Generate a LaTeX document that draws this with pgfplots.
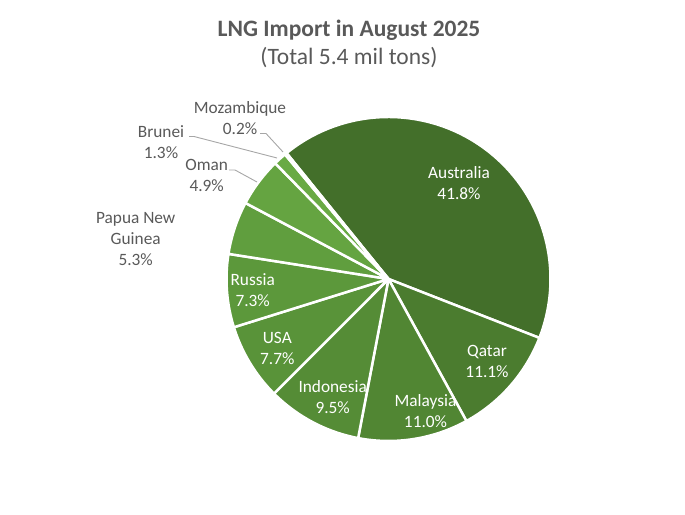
\documentclass[border=0pt]{standalone}
\usepackage{pgfplots}
\pgfplotsset{compat=1.18}
\usepackage{fontspec}
\setmainfont{Carlito}
\definecolor{cAus}{HTML}{436F2A}
\definecolor{cQat}{HTML}{4B7C2F}
\definecolor{cMal}{HTML}{518633}
\definecolor{cIdn}{HTML}{558C36}
\definecolor{cUsa}{HTML}{599339}
\definecolor{cRus}{HTML}{5C983B}
\definecolor{cPng}{HTML}{609E3E}
\definecolor{cOma}{HTML}{65A441}
\definecolor{cBru}{HTML}{69AA44}
\definecolor{cMoz}{HTML}{6EAD46}
\definecolor{txt}{HTML}{595959}
\definecolor{lead}{HTML}{A6A6A6}
\begin{document}
\begin{tikzpicture}
\begin{axis}[
  width=685bp, height=515bp, scale only axis,
  xmin=0, xmax=685, ymin=0, ymax=515,
  hide axis, clip=false]
% values (percent), clockwise from start angle 129 deg
\def\startang{129}
\def\total{100.1}
\xdef\cur{\startang}
\foreach \v/\c in {41.8/cAus, 11.1/cQat, 11.0/cMal, 9.5/cIdn, 7.7/cUsa, 7.3/cRus, 5.3/cPng, 4.9/cOma, 1.3/cBru, 0.2/cMoz}{
  \pgfmathsetmacro{\nxt}{\cur-\v*360/\total}
  \edef\doslice{\noexpand\fill[\c, draw=white, line width=2.5bp, line join=round] (axis cs:388.5,236) -- ++(\cur:162bp) arc[start angle=\cur, end angle=\nxt, radius=162bp] -- cycle;}
  \doslice
  \xdef\cur{\nxt}
}
% leader lines
\draw[lead, line width=0.9bp] (axis cs:260,381.5) -- (axis cs:266,381.5) -- (axis cs:283,363);
\draw[lead, line width=0.9bp] (axis cs:189,378.5) -- (axis cs:194,378.5) -- (axis cs:277,357);
\draw[lead, line width=0.9bp] (axis cs:229,345) -- (axis cs:235,345) -- (axis cs:257,333);
% inside labels
\tikzset{lab/.style={align=center, font=\fontsize{17.3bp}{21bp}\selectfont, inner sep=0pt}}
\node[lab, white] at (axis cs:459,331.5) {Australia\\41.8\%};
\node[lab, white] at (axis cs:487,153.5) {Qatar\\11.1\%};
\node[lab, white] at (axis cs:425.5,103.5) {Malaysia\\11.0\%};
\node[lab, white] at (axis cs:332.7,117.5) {Indonesia\\9.5\%};
\node[lab, white] at (axis cs:277.3,166.7) {USA\\7.7\%};
\node[lab, white] at (axis cs:252.7,225) {Russia\\7.3\%};
% outside labels
\node[lab, txt] at (axis cs:240,396.7) {Mozambique\\0.2\%};
\node[lab, txt] at (axis cs:161,373.3) {Brunei\\1.3\%};
\node[lab, txt] at (axis cs:206.7,339.3) {Oman\\4.9\%};
\node[lab, txt] at (axis cs:135.7,276) {Papua New\\Guinea\\5.3\%};
% title
\node[txt, inner sep=0pt, font=\fontsize{23.5bp}{28bp}\selectfont\bfseries] at (axis cs:349,485) {LNG Import in August 2025};
\node[txt, inner sep=0pt, font=\fontsize{23.5bp}{28bp}\selectfont] at (axis cs:349,457) {(Total 5.4 mil tons)};
\end{axis}
\path (0,0) rectangle (685bp,515bp);
\end{tikzpicture}
\end{document}
